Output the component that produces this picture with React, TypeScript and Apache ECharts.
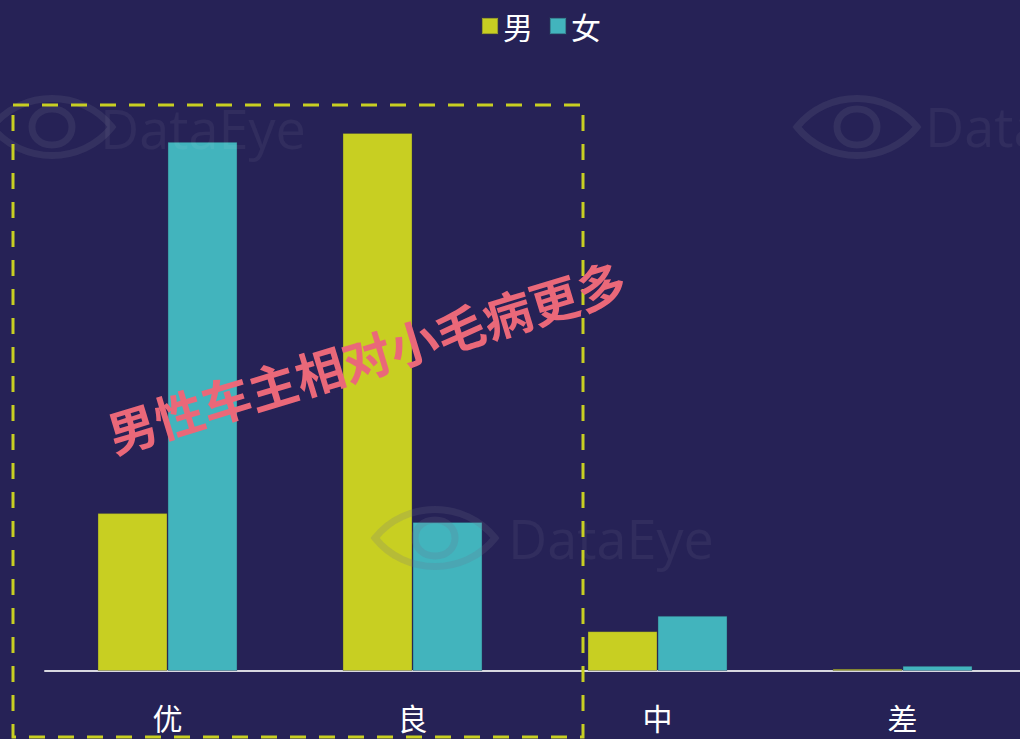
import React, { useEffect, useRef } from "react";
import * as echarts from "echarts";

const categories = ["优", "良", "中", "差"];
const legendNames = ["男", "女"];
const maleValues = [21.4, 72.9, 5.4, 0.3];
const femaleValues = [71.7, 20.2, 7.5, 0.7];
const annotation = "男性车主相对小毛病更多";
const watermarkText = "DataEye";

const eyePath =
  "M0,30 C30,-8 90,-8 120,30 C90,68 30,68 0,30 Z M60,12 C72,12 80,20 80,30 C80,40 72,48 60,48 C48,48 40,40 40,30 C40,20 48,12 60,12 Z";

echarts.graphic.registerShape("eyelogo", (echarts.graphic as any).extendPath(eyePath, {}));

export default function App() {
  const ref = useRef<HTMLDivElement>(null);
  useEffect(() => {
    document.body.style.margin = "0";
    const chart = echarts.init(ref.current!, null, { renderer: "svg" });
    const wm = (ex: number, ey: number, tx: number, ty: number) => [
      {
        type: "eyelogo",
        x: ex,
        y: ey,
        z: 100,
        silent: true,
        style: { fill: "none", stroke: "rgba(110,110,140,0.2)", lineWidth: 7 },
      },
      {
        type: "text",
        x: tx,
        y: ty,
        z: 100,
        silent: true,
        style: {
          text: watermarkText,
          fill: "rgba(255,255,255,0.05)",
          font: '54px "Open Sans", sans-serif',
          textAlign: "left",
          textVerticalAlign: "middle",
        },
      },
    ];
    chart.setOption({
      animation: false,
      backgroundColor: "#262256",
      legend: {
        data: legendNames,
        top: 6,
        left: 476,
        itemWidth: 16,
        itemHeight: 16,
        itemGap: 16,
        icon: "rect",
        textStyle: { color: "#ffffff", fontSize: 30, fontFamily: "Noto Sans CJK SC" },
      },
      grid: { left: 45, width: 980, top: 80.6, bottom: 68 },
      xAxis: {
        type: "category",
        data: categories,
        axisLine: { lineStyle: { color: "#d8d8e0", width: 2 } },
        axisTick: { show: false },
        axisLabel: { color: "#ffffff", fontSize: 30, margin: 31, fontFamily: "Noto Sans CJK SC" },
      },
      yAxis: {
        type: "value",
        min: 0,
        max: 80,
        show: false,
        splitLine: { show: false },
      },
      series: [
        {
          name: legendNames[0],
          type: "bar",
          data: maleValues,
          barWidth: 70,
          barGap: "0%",
          itemStyle: { color: "#c8cf22", borderColor: "rgba(60,60,60,0.35)", borderWidth: 1 },
        },
        {
          name: legendNames[1],
          type: "bar",
          data: femaleValues,
          barWidth: 70,
          itemStyle: { color: "#42b4bd", borderColor: "rgba(40,60,90,0.4)", borderWidth: 1 },
        },
      ],
      graphic: [
        ...wm(-8, 97, 100, 128),
        ...wm(375, 508, 508, 538),
        ...wm(797, 97, 925, 126),
        {
          type: "rect",
          z: 110,
          silent: true,
          shape: { x: 13, y: 105, width: 570, height: 632 },
          style: { fill: "none", stroke: "#c8cf22", lineWidth: 3, lineDash: [16, 13] },
        },
        {
          type: "text",
          z: 120,
          x: 366,
          y: 355,
          rotation: 0.295,
          silent: true,
          style: {
            text: annotation,
            fill: "#ea6879",
            font: 'bold 49px "Noto Sans CJK SC", sans-serif',
            textAlign: "center",
            textVerticalAlign: "middle",
          },
        },
      ],
    });
    return () => chart.dispose();
  }, []);
  return (
    <div style={{ position: "fixed", left: 0, top: 0, width: 1020, height: 739, overflow: "hidden" }}>
      <div ref={ref} style={{ width: 1030, height: 739 }} />
    </div>
  );
}
